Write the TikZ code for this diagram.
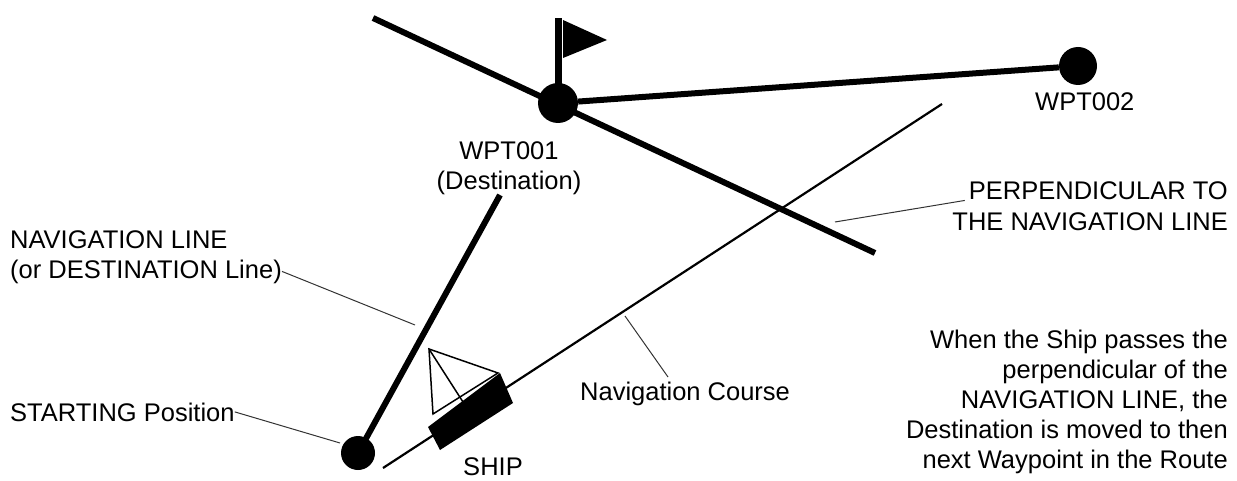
\documentclass[tikz,border=0pt]{standalone}
\usepackage{fontspec}
\setmainfont{Liberation Sans}
\begin{document}
\begin{tikzpicture}[x=1pt,y=-1pt,
  thick line/.style={line width=6pt},
  thin line/.style={line width=2.2pt},
  lead/.style={line width=1pt,draw=black!80},
  lbl/.style={font=\fontsize{25.5}{30}\selectfont,inner sep=0pt},
  dot/.style={circle,fill=black,inner sep=0pt}]
\useasboundingbox (0,0) rectangle (1237,481);
\node[dot,minimum size=40] (w1) at (558,103) {};
\node[dot,minimum size=38] (w2) at (1078,66) {};
\node[dot,minimum size=34] (st) at (358,453) {};
\coordinate (pa) at (373,18);
\coordinate (pb) at (875,253);
\coordinate (ft) at (558,18);
\coordinate (ne) at (500,195);
\coordinate (ca) at (383,468);
\coordinate (cb) at (942,104);
\draw[thick line] (pa) -- (pb);
\draw[thick line] (w1) -- (w2);
\draw[line width=7pt] (w1.center) -- (ft);
\fill (563,20) -- (607,40) -- (563,58) -- cycle;
\draw[thick line] (st.center) -- (ne);
\draw[thin line] (ca) -- (cb);
\fill (428,427) -- (500,373) -- (513,403) -- (440,450) -- cycle;
\draw[line width=1.5pt,line join=miter] (429,349) -- (498,373) -- (433,414) -- cycle;
\draw[line width=1.5pt] (429,349) -- (463,402);
% labels
\node[lbl,anchor=base] (l1) at (509,160) {WPT001};
\node[lbl,anchor=base] (l1b) at (509,190) {(Destination)};
\node[lbl,anchor=base west] (l2) at (1035,111) {WPT002};
\node[lbl,anchor=base east] (pp1) at (1228,200) {PERPENDICULAR TO};
\node[lbl,anchor=base east] (pp2) at (1228,230) {THE NAVIGATION LINE};
\node[lbl,anchor=base west] (nl1) at (10,248) {NAVIGATION LINE};
\node[lbl,anchor=base west] (nl2) at (10,278) {(or DESTINATION Line)};
\node[lbl,anchor=base west] (sp) at (10,421) {STARTING Position};
\node[lbl,anchor=base west] (nc) at (580,400) {Navigation Course};
\node[lbl,anchor=base] (sh) at (493,475) {SHIP};
\node[lbl,anchor=north east,align=right] (tx) at (1228,330) {When the Ship passes the\\perpendicular of the\\NAVIGATION LINE, the\\Destination is moved to then\\next Waypoint in the Route};
\coordinate (e1) at (835,222);
\coordinate (e2) at (415,325);
\coordinate (e3) at (340,443);
\coordinate (e4) at (625,316);
\draw[lead] (pp1.south west) ++(-4,0) -- (e1);
\draw[lead] (nl2.east) -- (e2);
\draw[lead] (sp.east) -- (e3);
\draw[lead] (668,377) -- (e4);
\end{tikzpicture}
\end{document}
